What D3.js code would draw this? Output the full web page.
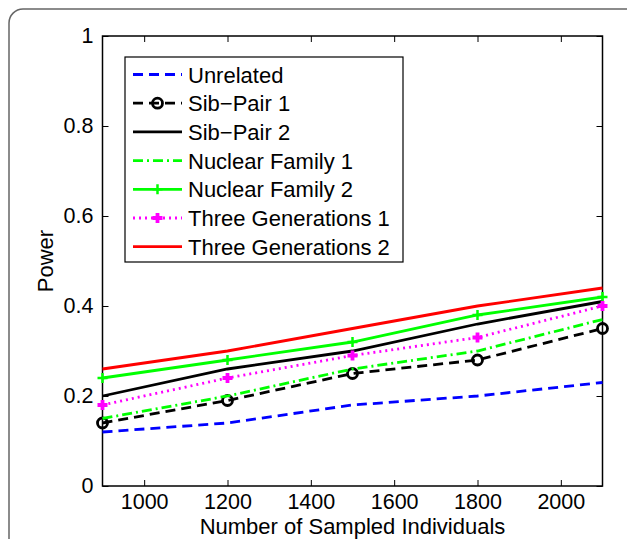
<!DOCTYPE html>
<html>
<head>
<meta charset="utf-8">
<script src="https://cdn.jsdelivr.net/npm/d3@7"></script>
<style>
 body{margin:0;background:#fff;}
 text{font-family:"Liberation Sans",Arial,Helvetica,sans-serif;}
</style>
</head>
<body>
<svg id="chart" width="627" height="539"></svg>
<script>
// sample sizes on the x axis
var sizes=[900,1200,1500,1800,2100];
var xTicks=[1000,1200,1400,1600,1800,2000];
var yTicks=[0,0.2,0.4,0.6,0.8,1];
var seriesNames=["Unrelated","Sib\u2212Pair 1","Sib\u2212Pair 2","Nuclear Family 1","Nuclear Family 2","Three Generations 1","Three Generations 2"];
var unrelated=[0.12,0.14,0.18,0.20,0.23];
var sibPair1=[0.14,0.19,0.25,0.28,0.35];
var sibPair2=[0.20,0.26,0.30,0.36,0.41];
var nuclear1=[0.15,0.20,0.26,0.30,0.37];
var nuclear2=[0.24,0.28,0.32,0.38,0.42];
var threeGen1=[0.18,0.24,0.29,0.33,0.40];
var threeGen2=[0.26,0.30,0.35,0.40,0.44];

(function(){
 "use strict";
 var styles=[
  {color:"#0000ff",dash:"10,6",marker:null},
  {color:"#000000",dash:"10,6",marker:"circle"},
  {color:"#000000",dash:null,marker:null},
  {color:"#00ff00",dash:"10,4,2,4",marker:null},
  {color:"#00ff00",dash:null,marker:"plus"},
  {color:"#ff00ff",dash:"2,4",marker:"plusBold"},
  {color:"#ff0000",dash:null,marker:null}
 ];
 var values=[unrelated,sibPair1,sibPair2,nuclear1,nuclear2,threeGen1,threeGen2];

 var svg=d3.select("#chart");
 var pLeft=102.5,pRight=602.5,pTop=36,pBottom=486;

 // outer rounded frame (cut at right and bottom)
 svg.append("rect").attr("x",9).attr("y",9).attr("width",640).attr("height",600)
  .attr("rx",14).attr("fill","none").attr("stroke","#666").attr("stroke-width",1.5);

 var x=d3.scaleLinear().domain([900,2100]).range([pLeft,pRight]);
 var y=d3.scaleLinear().domain([0,1]).range([pBottom,pTop]);

 function styleAxis(g){
  g.select(".domain").remove();
  g.selectAll(".tick line").attr("stroke","#000").attr("stroke-width",1);
  g.selectAll(".tick text").attr("font-size",21.5).attr("fill","#000")
   .attr("font-family","'Liberation Sans',Arial,sans-serif");
 }

 svg.append("g").attr("transform","translate(0,"+pBottom+")")
  .call(d3.axisBottom(x).tickValues(xTicks).tickFormat(d3.format("d")).tickSizeInner(-6).tickSizeOuter(0).tickPadding(8))
  .call(styleAxis);
 svg.append("g").attr("transform","translate(0,"+pTop+")")
  .call(d3.axisTop(x).tickValues(xTicks).tickFormat("").tickSizeInner(-6).tickSizeOuter(0))
  .call(styleAxis);
 svg.append("g").attr("transform","translate("+pLeft+",0)")
  .call(d3.axisLeft(y).tickValues(yTicks).tickFormat(function(d){return d===0||d===1?d3.format("d")(d):d3.format(".1f")(d);}).tickSizeInner(-6).tickSizeOuter(0).tickPadding(9))
  .call(styleAxis);
 svg.append("g").attr("transform","translate("+pRight+",0)")
  .call(d3.axisRight(y).tickValues(yTicks).tickFormat("").tickSizeInner(-6).tickSizeOuter(0))
  .call(styleAxis);

 svg.append("rect").attr("x",pLeft).attr("y",pTop).attr("width",pRight-pLeft).attr("height",pBottom-pTop)
  .attr("fill","none").attr("stroke","#000").attr("stroke-width",1.5);

 var line=d3.line().x(function(d){return x(d[0]);}).y(function(d){return y(d[1]);});

 function drawMarker(g,type,cx,cy,color){
  if(type==="circle"){
   g.append("circle").attr("cx",cx).attr("cy",cy).attr("r",5)
    .attr("fill","none").attr("stroke",color).attr("stroke-width",2.8);
  }else{
   var s=5,w=type==="plus"?2.5:3.8;
   g.append("path").attr("d","M"+(cx-s)+","+cy+"H"+(cx+s)+"M"+cx+","+(cy-s)+"V"+(cy+s))
    .attr("stroke",color).attr("stroke-width",w).attr("fill","none");
  }
 }

 var plot=svg.append("g");
 values.forEach(function(vals,i){
  var st=styles[i];
  var pts=sizes.map(function(s,j){return [s,vals[j]];});
  plot.append("path").datum(pts).attr("d",line).attr("fill","none")
   .attr("stroke",st.color).attr("stroke-width",2.8)
   .attr("stroke-dasharray",st.dash);
  if(st.marker){
   pts.forEach(function(p){drawMarker(plot,st.marker,x(p[0]),y(p[1]),st.color);});
  }
 });

 // legend
 var lg=svg.append("g");
 lg.append("rect").attr("x",125).attr("y",57).attr("width",278).attr("height",205)
  .attr("fill","#fff").attr("stroke","#000").attr("stroke-width",1.2);
 seriesNames.forEach(function(name,i){
  var st=styles[i],ry=74.5+i*28.7;
  lg.append("line").attr("x1",133).attr("x2",182).attr("y1",ry).attr("y2",ry)
   .attr("stroke",st.color).attr("stroke-width",2.8).attr("stroke-dasharray",st.dash);
  if(st.marker){drawMarker(lg,st.marker,157.5,ry,st.color);}
  lg.append("text").attr("x",188).attr("y",ry+8).attr("font-size",22).attr("fill","#000").text(name);
 });

 // axis titles
 svg.append("text").attr("x",(pLeft+pRight)/2).attr("y",534).attr("text-anchor","middle")
  .attr("font-size",22).text("Number of Sampled Individuals");
 svg.append("text").attr("transform","translate(53,"+((pTop+pBottom)/2)+") rotate(-90)")
  .attr("text-anchor","middle").attr("font-size",22).text("Power");
}());
</script>
</body>
</html>
